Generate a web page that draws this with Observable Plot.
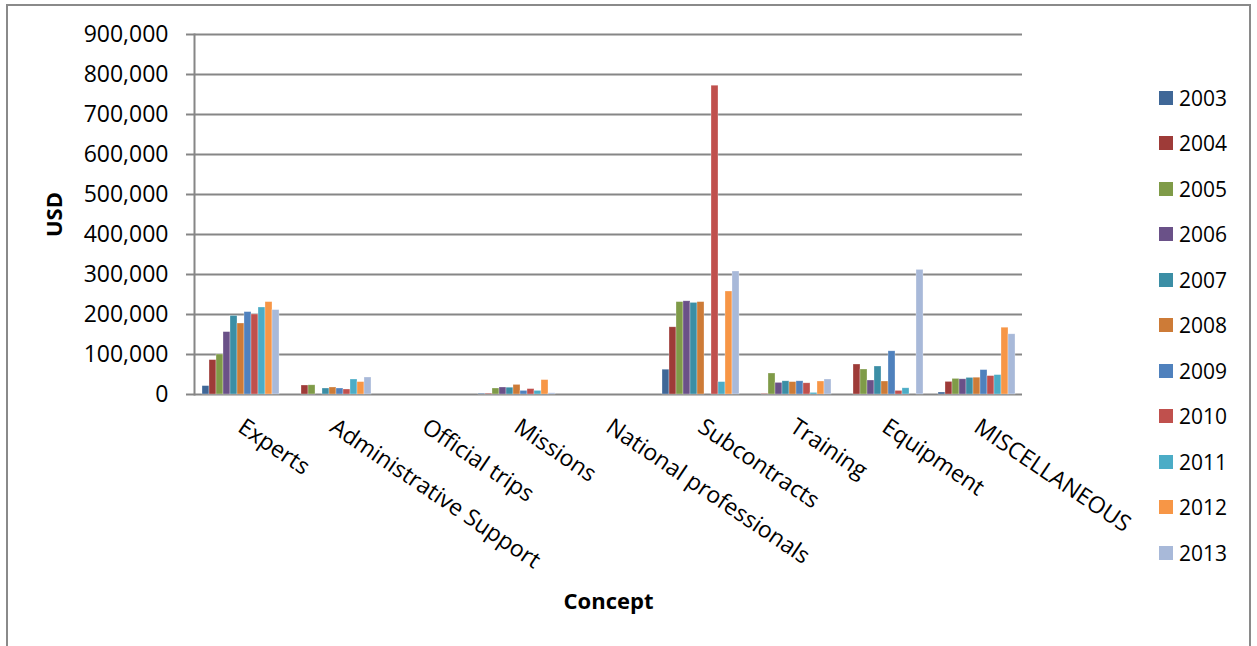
<!DOCTYPE html>
<html>
<head>
<meta charset="utf-8">
<script src="https://cdn.jsdelivr.net/npm/d3@7"></script>
<script src="https://cdn.jsdelivr.net/npm/@observablehq/plot@0.6"></script>
<style>
  body { margin: 0; background: #fff; }
  #wrap { position: relative; width: 1257px; height: 646px; background: #fff; overflow: hidden; font-family: "Open Sans", sans-serif; }
  #border { position: absolute; left: 6px; top: 4px; width: 1245px; height: 700px; border: 2px solid #8a8a8a; box-sizing: border-box; }
  #chart { position: absolute; left: 0; top: 0; }
  #legend { position: absolute; left: 1159px; top: 75px; }
  .item { display: flex; align-items: center; height: 45.5px; font-size: 21px; color: #000; }
  .sw { width: 14px; height: 14px; margin-right: 6px; }
  svg g[aria-label="y-axis tick label"] { font-size: 23px; }
  svg g[aria-label="fx-axis tick label"] { font-size: 23px; }
  svg g[aria-label="y-axis label"], svg g[aria-label="fx-axis label"] { font-weight: bold; font-size: 22px; }
</style>
</head>
<body>
<div id="wrap">
  <div id="border"></div>
  <div id="chart"></div>
  <div id="legend"></div>
</div>
<script>
const concepts = ["Experts", "Administrative Support", "Official trips", "Missions", "National professionals", "Subcontracts", "Training", "Equipment", "MISCELLANEOUS"];
const years = ["2003", "2004", "2005", "2006", "2007", "2008", "2009", "2010", "2011", "2012", "2013"];
const colors = ["#3F6797", "#9E3B38", "#7F9B48", "#6A5188", "#3B8EA5", "#CD7B37", "#4F81BD", "#C0504D", "#4BACC6", "#F79646", "#A8B9D9"];
const yTicks = [0, 100000, 200000, 300000, 400000, 500000, 600000, 700000, 800000, 900000];

// values per year, in the order of concepts
const v2003 = [21000, 0, 0, 2000, 0, 62000, 0, 0, 5000];
const v2004 = [86000, 22500, 0, 2000, 0, 168000, 1500, 75000, 31500];
const v2005 = [100000, 23000, 0, 15000, 0, 231000, 52500, 62500, 39000];
const v2006 = [156000, 0, 0, 17500, 0, 233000, 29000, 35000, 38000];
const v2007 = [196500, 15000, 0, 17000, 0, 229000, 33000, 70000, 41500];
const v2008 = [177500, 17500, 0, 24000, 0, 231000, 31000, 32500, 42000];
const v2009 = [206000, 15000, 0, 9000, 0, 0, 33000, 108000, 61000];
const v2010 = [200000, 12500, 0, 13500, 0, 772000, 28000, 9000, 46000];
const v2011 = [217500, 37500, 0, 9000, 0, 31000, 4000, 15500, 48500];
const v2012 = [231000, 31000, 0, 36000, 0, 257500, 32500, 0, 167000];
const v2013 = [211000, 42500, 0, 3000, 0, 307500, 37500, 311500, 150500];

const series = [v2003, v2004, v2005, v2006, v2007, v2008, v2009, v2010, v2011, v2012, v2013];
const data = years.flatMap((yr, i) => concepts.map((c, j) => ({concept: c, year: yr, value: series[i][j]})));

const gridColor = "#868686";

const chart = Plot.plot({
  width: 1257,
  height: 646,
  marginLeft: 193,
  marginRight: 235,
  marginTop: 34,
  marginBottom: 252,
  style: {fontFamily: "'Open Sans', sans-serif", fontSize: "21px", color: "#000", background: "transparent", overflow: "visible"},
  fx: {domain: concepts, padding: 0},
  x: {domain: years, paddingInner: 0, paddingOuter: 0.8, axis: null},
  y: {domain: [0, 900000]},
  color: {domain: years, range: colors},
  marks: [
    Plot.ruleY(yTicks, {stroke: gridColor, strokeWidth: 2, strokeOpacity: 1}),
    Plot.frame({anchor: "left", facetAnchor: "left", stroke: gridColor, strokeWidth: 2, strokeOpacity: 1}),
    Plot.barY(data, {fx: "concept", x: "year", y: "value", fill: "year", stroke: "white", strokeOpacity: 0.5, strokeWidth: 0.6}),
    Plot.axisY({ticks: yTicks, tickFormat: d3.format(","), tickSize: 8, tickPadding: 18, stroke: gridColor, strokeWidth: 2, strokeOpacity: 1,
      label: "USD", labelAnchor: "center", labelOffset: 148, labelArrow: "none"}),
    Plot.axisFx({anchor: "bottom", tickRotate: 34, tickSize: 0, tickPadding: 30,
      label: "Concept", labelAnchor: "center", labelOffset: 214})
  ]
});
document.getElementById("chart").appendChild(chart);

const legend = document.getElementById("legend");
years.forEach((yr, i) => {
  const row = document.createElement("div");
  row.className = "item";
  const sw = document.createElement("div");
  sw.className = "sw";
  sw.style.background = colors[i];
  const t = document.createElement("span");
  t.textContent = yr;
  row.appendChild(sw);
  row.appendChild(t);
  legend.appendChild(row);
});
</script>
</body>
</html>
